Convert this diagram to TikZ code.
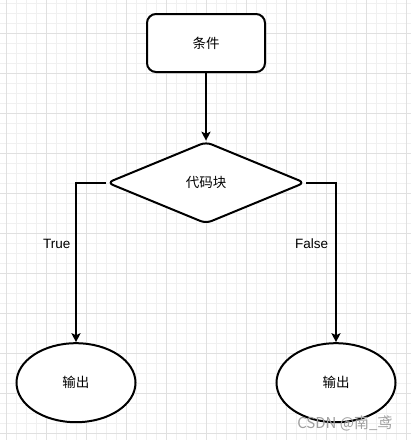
\documentclass[tikz,border=0pt]{standalone}
\usepackage{fontspec}
\setmainfont{Liberation Sans}
\newfontfamily\cjk{Noto Sans CJK SC}
\usetikzlibrary{shapes.geometric,arrows.meta}
\definecolor{gminor}{HTML}{F0F0F0}
\definecolor{gmajor}{HTML}{E0E0E0}
\tikzset{
  shp/.style={draw=black, line width=2pt, fill=white, font=\cjk\fontsize{13.5}{15}\selectfont},
  conn/.style={line width=2pt, -{Stealth[length=9pt,width=9pt,inset=2pt]}},
  lbl/.style={font=\fontsize{13.5}{15}\selectfont}
}
\begin{document}
\begin{tikzpicture}[x=1pt,y=-1pt]
\useasboundingbox (0,0) rectangle (411,440);
\fill[white] (0,0) rectangle (411,440);
% grid
\foreach \i in {0,...,41} {
  \draw[gminor, line width=0.8pt] ({6.7+10*\i},0) -- ({6.7+10*\i},440);
}
\foreach \i in {0,...,44} {
  \draw[gminor, line width=0.8pt] (0,{3.3+10*\i}) -- (411,{3.3+10*\i});
}
\foreach \i in {0,...,10} {
  \draw[gmajor, line width=1pt] ({6.7+40*\i},0) -- ({6.7+40*\i},440);
}
\foreach \i in {0,...,11} {
  \draw[gmajor, line width=1pt] (0,{33.3+40*\i}) -- (411,{33.3+40*\i});
}
% nodes
\node[shp, rectangle, rounded corners=9pt, minimum width=118pt, minimum height=58pt] (cond) at (206,43) {条件};
\node[shp, diamond, rounded corners=6pt, aspect=2.43, minimum width=198pt, minimum height=82pt, inner sep=0pt] (code) at (206,182.7) {代码块};
\node[shp, ellipse, minimum width=119pt, minimum height=79pt] (outL) at (76,382.7) {输出};
\node[shp, ellipse, minimum width=119pt, minimum height=79pt] (outR) at (336,382.7) {输出};
\coordinate (cL) at (106,182.7);
\coordinate (cR) at (306,182.7);
% connectors
\draw[conn] (cond.south) -- (code.north);
\draw[conn] (cL) -| (outL.north);
\draw[conn] (cR) -| (outR.north);
\node[lbl] (tT) at (56.7,244) {True};
\node[lbl] (tF) at (311.7,244) {False};
\node[text=gray!75, font=\cjk\fontsize{15}{17}\selectfont, anchor=east] (wm) at (396,423) {CSDN @南\_鸢};
\end{tikzpicture}
\end{document}
